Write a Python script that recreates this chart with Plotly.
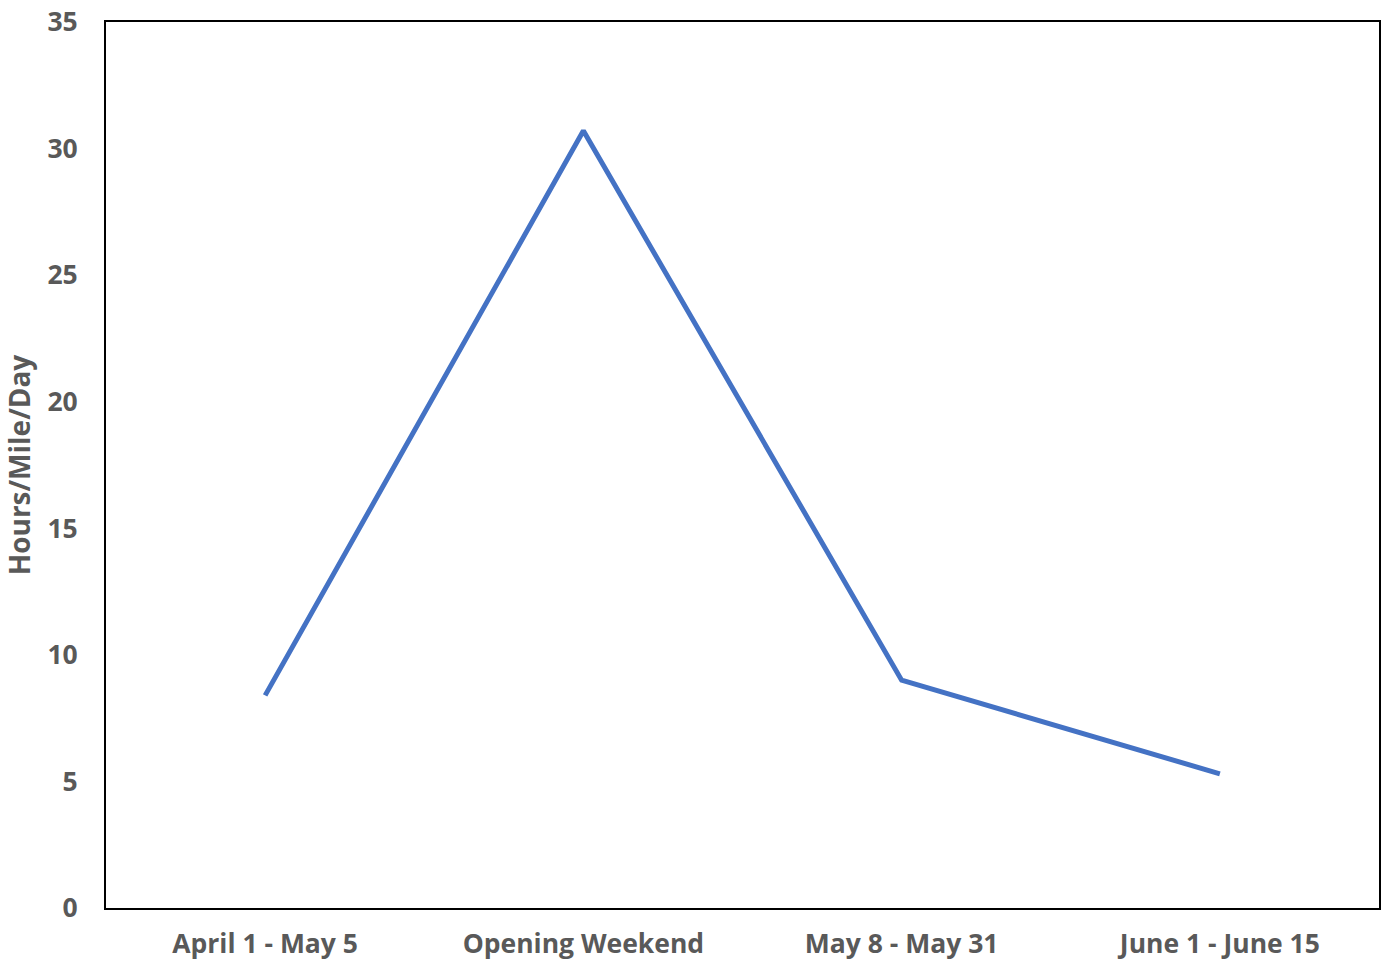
import plotly.graph_objects as go

categories = ["April 1 - May 5", "Opening Weekend", "May 8 - May 31", "June 1 - June 15"]
values = [8.4, 30.7, 9.0, 5.3]
y_ticks = [0, 5, 10, 15, 20, 25, 30, 35]

FONT = "Open Sans, sans-serif"
GRAY = "#595959"
SIZE = 26.5

fig = go.Figure()
fig.add_trace(go.Scatter(
    x=categories, y=values, mode="lines",
    line=dict(color="#4472C4", width=5),
    hoverinfo="skip",
))

fig.update_layout(
    width=1384, height=965,
    margin=dict(l=106, r=3, t=19, b=57),
    paper_bgcolor="white", plot_bgcolor="white",
    showlegend=False,
    font=dict(family=FONT, size=SIZE, color=GRAY),
)
fig.update_xaxes(
    type="category", range=[-0.5, 3.5],
    showgrid=False, zeroline=False,
    showline=True, linecolor="black", linewidth=2, mirror=True,
    ticks="", tickfont=dict(family=FONT, size=SIZE, color=GRAY, weight="bold"),
    ticklabelstandoff=11,
)
fig.update_yaxes(
    range=[0, 35], tickvals=y_ticks,
    showgrid=False, zeroline=False,
    showline=True, linecolor="black", linewidth=2, mirror=True,
    ticks="", tickfont=dict(family=FONT, size=SIZE, color=GRAY, weight="bold"),
    ticklabelstandoff=21,
    title=dict(text="Hours/Mile/Day", font=dict(family=FONT, size=28, color=GRAY, weight="bold"), standoff=10),
)

fig.write_html("out.html")
